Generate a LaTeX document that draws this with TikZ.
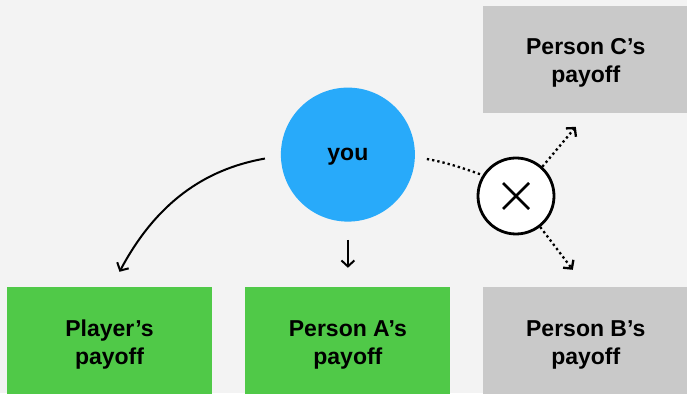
\documentclass[tikz,border=0pt]{standalone}
\usepackage{fontspec}
\setmainfont{Liberation Sans}
\usetikzlibrary{arrows.meta, positioning}

\definecolor{bggray}{RGB}{243,243,243}
\definecolor{paygreen}{RGB}{80,201,72}
\definecolor{paygray}{RGB}{201,201,201}
\definecolor{youblue}{RGB}{40,170,250}

\begin{document}
\begin{tikzpicture}[
        x=1pt, y=1pt,
        >={Straight Barb[length=6pt,width=13pt]},
        box/.style={
            minimum width=205pt,
            minimum height=107pt,
            inner sep=0pt,
            align=center,
            text height=52pt
        },
        arr/.style={
            ->,
            line width=2pt
        },
        dots/.style={
            line width=2.3pt,
            dash pattern=on 2.3pt off 3pt
        },
        node distance=33pt,
        every node/.style={font=\bfseries\fontsize{23}{28}\selectfont}
    ]
        \useasboundingbox (0,0) rectangle (687,393);
        \clip (0,0) rectangle (687,393);
        \fill[bggray] (0,0) rectangle (687,393);

        % payoff boxes
        \node[box, fill=paygreen] (player) at (109.5,52.5) {
            Player’s\\
            payoff
        };

        \node[box, fill=paygreen, right=of player] (personA) {
            Person A’s\\
            payoff
        };

        \node[box, fill=paygray, right=32.5pt of personA] (personB) {
            Person B’s\\
            payoff
        };

        \node[box, fill=paygray, above=174pt of personB] (personC) {
            Person C’s\\
            payoff
        };

        % decision maker and the blocked channel
        \node[circle, fill=youblue, minimum size=134pt, inner sep=0pt,
              text depth=0pt, above=65pt of personA] (you) {you};

        \node[circle, draw, fill=white, line width=2.8pt, minimum size=76pt,
              inner sep=0pt] (cross) at (516,197) {};
        \draw[line width=2.8pt] ([shift={(-13pt,-13pt)}]cross.center) -- ([shift={(13pt,13pt)}]cross.center);
        \draw[line width=2.8pt] ([shift={(-13pt,13pt)}]cross.center) -- ([shift={(13pt,-13pt)}]cross.center);

        \draw[arr, shorten <=16pt] (you.181) to[out=190, in=62]
            ([xshift=10pt, yshift=15pt]player.north);
        \draw[arr, shorten <=18pt, shorten >=19pt] (you) -- (personA);

        \draw[dots, shorten <=12pt] (you.-2) to[out=-10, in=160] (cross.148);
        \draw[dots, ->] (cross.48) -- ([xshift=-10pt, yshift=-14pt]personC.south);
        \draw[dots, ->] (cross.-52) -- ([xshift=-13pt, yshift=17pt]personB.north);
    \end{tikzpicture}
\end{document}
